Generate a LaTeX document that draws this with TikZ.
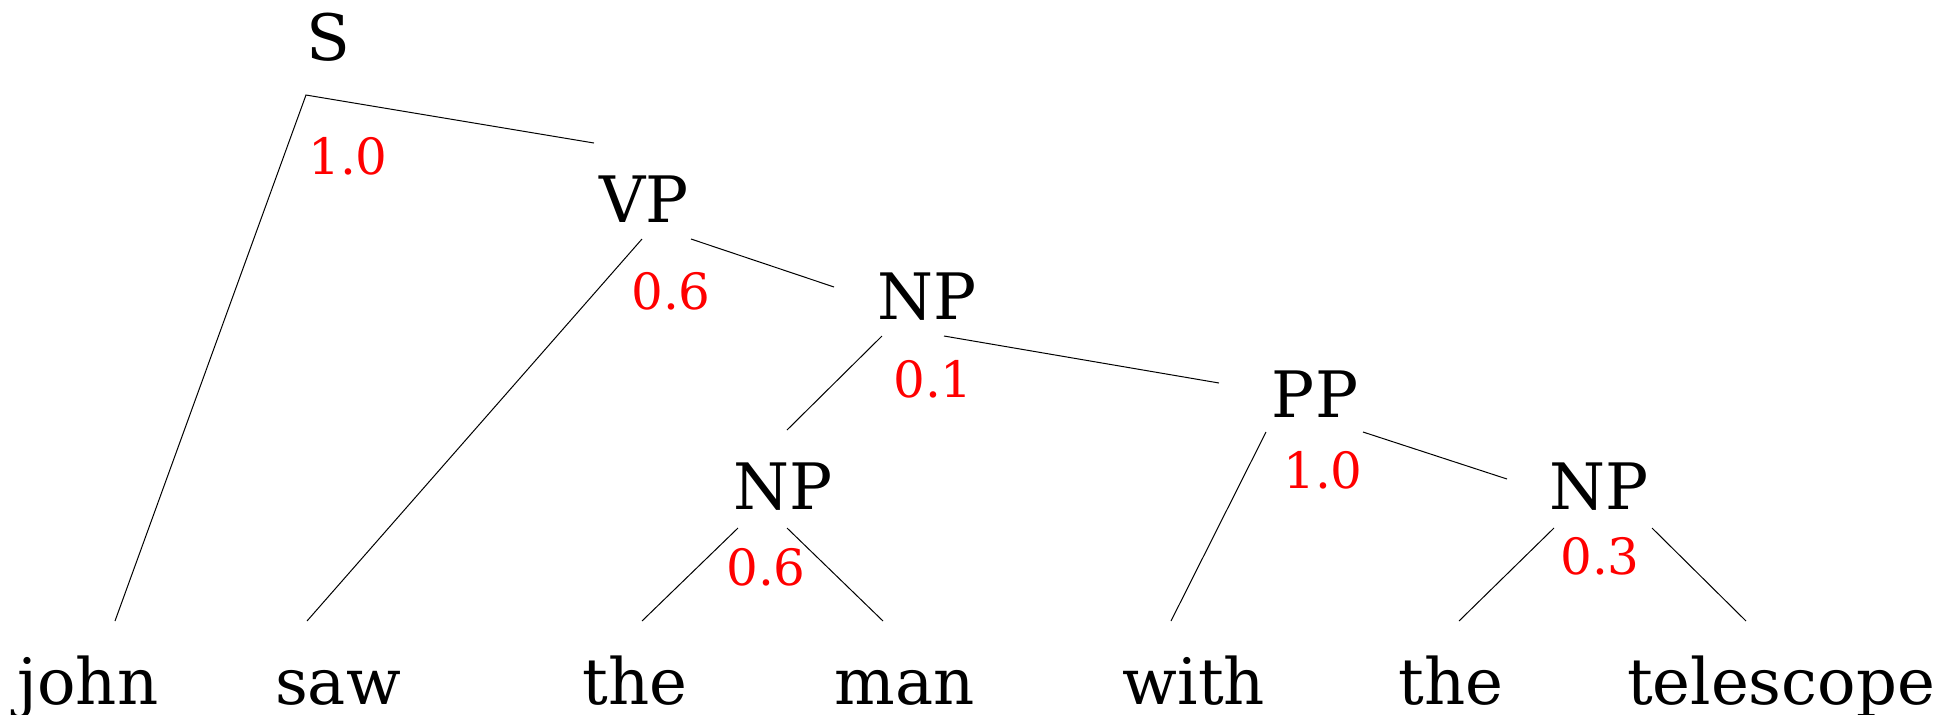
\documentclass[tikz,border=0pt]{standalone}
\usepackage{fontspec}
\setmainfont{DejaVu Serif}
\begin{document}
\begin{tikzpicture}[x=0.5pt,y=-0.5pt,
  cat/.style={inner sep=0pt,anchor=base,font=\fontsize{32}{32}\selectfont},
  word/.style={inner sep=0pt,anchor=base,font=\fontsize{32}{32}\selectfont},
  prob/.style={inner sep=0pt,anchor=base,text=red,font=\fontsize{25}{25}\selectfont},
  edge/.style={line width=0.5pt,black}]
\useasboundingbox (0,0) rectangle (1956,714);

% categories
\node[cat] (S)   at (328,60)  {S};
\node[cat] (VP)  at (644,222) {VP};
\node[cat] (NP1) at (927,319) {NP};
\node[cat] (PP)  at (1315,417) {PP};
\node[cat] (NP2) at (783,509) {NP};
\node[cat] (NP3) at (1599,509) {NP};

% words
\node[word] (w1) at (88,704)  {john};
\node[word] (w2) at (338,704) {saw};
\node[word] (w3) at (635,704) {the};
\node[word] (w4) at (905,704) {man};
\node[word] (w5) at (1194,704) {with};
\node[word] (w6) at (1451,704) {the};
\node[word] (w7) at (1781,704) {telescope};

% rule probabilities
\node[prob] (pS)   at (348,174) {1.0};
\node[prob] (pVP)  at (671,309) {0.6};
\node[prob] (pNP1) at (933,397) {0.1};
\node[prob] (pPP)  at (1323,488) {1.0};
\node[prob] (pNP2) at (766,585) {0.6};
\node[prob] (pNP3) at (1600,574) {0.3};

% branch end points
\coordinate (S-o)   at (306,95);
\coordinate (VP-in) at (594,143);
\coordinate (w1-in) at (115,621);
\coordinate (VP-l)  at (642,239);
\coordinate (VP-r)  at (691,239);
\coordinate (w2-in) at (307,621);
\coordinate (NP1-in) at (834,287);
\coordinate (NP1-l) at (882,336);
\coordinate (NP1-r) at (944,336);
\coordinate (NP2-in) at (787,430);
\coordinate (PP-in) at (1219,383);
\coordinate (PP-l)  at (1266,432);
\coordinate (PP-r)  at (1363,432);
\coordinate (w5-in) at (1171,621);
\coordinate (NP3-in) at (1507,479);
\coordinate (NP2-l) at (738,528);
\coordinate (NP2-r) at (787,528);
\coordinate (w3-in) at (642,621);
\coordinate (w4-in) at (883,621);
\coordinate (NP3-l) at (1554,528);
\coordinate (NP3-r) at (1652,528);
\coordinate (w6-in) at (1459,621);
\coordinate (w7-in) at (1746,621);

% branches
\draw[edge] (VP-in) -- (S-o) -- (w1-in);
\draw[edge] (VP-l) -- (w2-in);
\draw[edge] (VP-r) -- (NP1-in);
\draw[edge] (NP1-l) -- (NP2-in);
\draw[edge] (NP1-r) -- (PP-in);
\draw[edge] (PP-l) -- (w5-in);
\draw[edge] (PP-r) -- (NP3-in);
\draw[edge] (NP2-l) -- (w3-in);
\draw[edge] (NP2-r) -- (w4-in);
\draw[edge] (NP3-l) -- (w6-in);
\draw[edge] (NP3-r) -- (w7-in);
\end{tikzpicture}
\end{document}
